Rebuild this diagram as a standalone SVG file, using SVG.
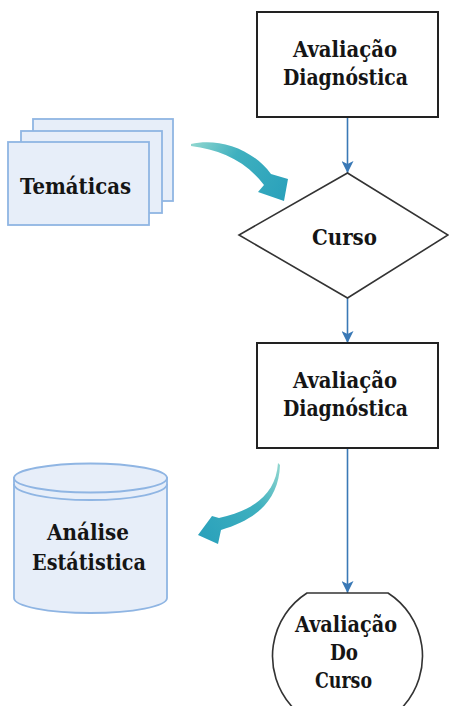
<svg xmlns="http://www.w3.org/2000/svg" width="449" height="706" viewBox="0 0 449 706">
<defs>
<style>
.box{fill:#fff;stroke:#222;stroke-width:2}
.doc{fill:#e7eef9;stroke:#8fb5e3;stroke-width:1.8}
.lbl{font-family:'DejaVu Serif','Liberation Serif',serif;font-weight:700;font-size:22px;fill:#151515;text-anchor:middle}
.conn{stroke:#3a79b6;stroke-width:1.6;fill:none}
</style>
<marker id="ah" viewBox="0 0 12 12" refX="12" refY="6" markerWidth="12" markerHeight="12" markerUnits="userSpaceOnUse" orient="auto">
<path d="M0,0 L12,6 L0,12 L3,6 Z" fill="#3a79b6"/>
</marker>
<linearGradient id="g1" x1="192" y1="144" x2="284" y2="200" gradientUnits="userSpaceOnUse">
<stop offset="0" stop-color="#8fd6cf"/>
<stop offset="0.4" stop-color="#3fb0bf"/>
<stop offset="1" stop-color="#2aa1bb"/>
</linearGradient>
<linearGradient id="g2" x1="278" y1="464" x2="198" y2="535" gradientUnits="userSpaceOnUse">
<stop offset="0" stop-color="#8fd6cf"/>
<stop offset="0.4" stop-color="#3fb0bf"/>
<stop offset="1" stop-color="#2aa1bb"/>
</linearGradient>
</defs>
<rect width="449" height="706" fill="#fff"/>

<g id="connectors">
<line class="conn" x1="347.5" y1="118" x2="347.5" y2="173" marker-end="url(#ah)"/>
<line class="conn" x1="347.5" y1="298" x2="347.5" y2="343" marker-end="url(#ah)"/>
<line class="conn" x1="347.5" y1="448" x2="347.5" y2="593" marker-end="url(#ah)"/>
<path id="curve1" d="M191,144 C215,138 250,146 271,174 L288,179 L284,201 L258,192 L264,185 C245,160 220,150 191,146 Z" fill="url(#g1)"/>
<path id="curve2" d="M278,463 C276,495 252,511 219,518 L212,516 L198,535 L218,544 L221,530 C256,520 279,500 280,465 Z" fill="url(#g2)"/>
</g>

<g id="n-aval1">
<rect class="box" x="257" y="12" width="181" height="105"/>
<text class="lbl" x="345" y="57" textLength="104" lengthAdjust="spacingAndGlyphs">Avaliação</text>
<text class="lbl" x="345.5" y="85" textLength="125" lengthAdjust="spacingAndGlyphs">Diagnóstica</text>
</g>

<g id="n-tematicas">
<rect class="doc" x="33" y="119" width="140" height="82"/>
<rect class="doc" x="21" y="131" width="141" height="82"/>
<rect class="doc" x="8" y="142" width="141" height="83"/>
<text class="lbl" x="75.5" y="194" textLength="111" lengthAdjust="spacingAndGlyphs">Temáticas</text>
</g>

<g id="n-curso">
<polygon points="347.5,173 448,235 347.5,298 239,235" fill="#fff" stroke="#333" stroke-width="1.6"/>
<text class="lbl" x="344.5" y="245" textLength="65" lengthAdjust="spacingAndGlyphs">Curso</text>
</g>

<g id="n-aval2">
<rect class="box" x="257" y="343" width="181" height="105"/>
<text class="lbl" x="345" y="388" textLength="104" lengthAdjust="spacingAndGlyphs">Avaliação</text>
<text class="lbl" x="345.5" y="416" textLength="125" lengthAdjust="spacingAndGlyphs">Diagnóstica</text>
</g>

<g id="n-analise">
<path class="doc" d="M14,478 L14,598 A76.5,15 0 0 0 167,598 L167,478 Z"/>
<ellipse class="doc" cx="90.5" cy="478" rx="76.5" ry="14.5"/>
<path d="M14,484 A76.5,16 0 0 0 167,484" fill="none" stroke="#8fb5e3" stroke-width="1.8"/>
<text class="lbl" x="88" y="540" textLength="82" lengthAdjust="spacingAndGlyphs">Análise</text>
<text class="lbl" x="89" y="570" textLength="114" lengthAdjust="spacingAndGlyphs">Estátistica</text>
</g>

<g id="n-avalcurso">
<path d="M307,593 L388,593 A75,75 0 1 1 307,593 Z" fill="#fff" stroke="#333" stroke-width="1.6"/>
<text class="lbl" x="346" y="632" textLength="102" lengthAdjust="spacingAndGlyphs">Avaliação</text>
<text class="lbl" x="344" y="660" textLength="28" lengthAdjust="spacingAndGlyphs">Do</text>
<text class="lbl" x="343.5" y="688" textLength="57" lengthAdjust="spacingAndGlyphs">Curso</text>
</g>
</svg>
